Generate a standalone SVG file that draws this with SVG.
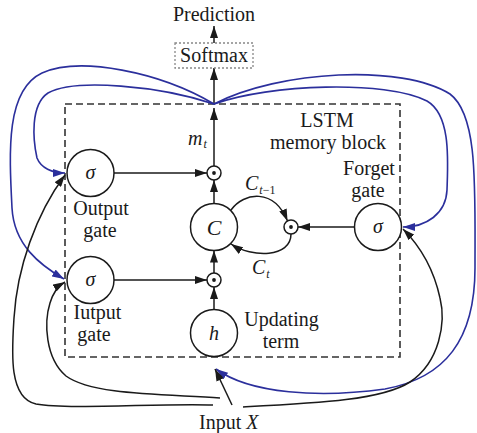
<svg xmlns="http://www.w3.org/2000/svg" width="477" height="433" viewBox="0 0 477 433">
  <style>
    text { font-family: "Liberation Serif", "Times New Roman", serif; font-size: 20px; fill: #1a1a1a; }
    .c { text-anchor: middle; }
    .i { font-style: italic; }
    .sub { font-size: 12px; }
    .node { fill: #fff; stroke: #1a1a1a; stroke-width: 1.5; }
    .blk { fill: none; stroke: #1a1a1a; stroke-width: 1.5; marker-end: url(#ah); }
    .blu { fill: none; stroke: #2b2f9c; stroke-width: 1.6; marker-end: url(#ahb); }
  </style>
  <defs>
    <marker id="ah" viewBox="0 0 12 8" refX="12" refY="4" markerWidth="12" markerHeight="8" markerUnits="userSpaceOnUse" orient="auto">
      <path d="M0,0 L12,4 L0,8 z" fill="#1a1a1a"/>
    </marker>
    <marker id="ahb" viewBox="0 0 12 8" refX="12" refY="4" markerWidth="12" markerHeight="8" markerUnits="userSpaceOnUse" orient="auto">
      <path d="M0,0 L12,4 L0,8 z" fill="#2b2f9c"/>
    </marker>
  </defs>
  <rect width="477" height="433" fill="#fff"/>

  <!-- LSTM memory block frame -->
  <g id="memory-block">
    <rect x="65" y="104" width="335" height="253" fill="none" stroke="#333" stroke-width="1.6" stroke-dasharray="7,4"/>
    <text class="c" x="327" y="127">LSTM</text>
    <text class="c" x="328" y="149">memory block</text>
  </g>

  <!-- connectors -->
  <g id="connectors">
    <!-- output path -->
    <path class="blk" d="M214,43 L214,26"/>
    <path class="blk" d="M214,104 L214,68"/>
    <path class="blk" d="M214,166 L214,108"/>
    <!-- gates into multipliers -->
    <path class="blk" d="M114,173 L207,173"/>
    <path class="blk" d="M114,280 L207,280"/>
    <path class="blk" d="M354.5,227 L298,227"/>
    <!-- cell column -->
    <path class="blk" d="M214,203.5 L214,180"/>
    <path class="blk" d="M214,273 L214,250.5"/>
    <path class="blk" d="M214,309.5 L214,287"/>
    <!-- cell state loop -->
    <path class="blk" d="M231,210 C244,192 274,188 287.5,221"/>
    <path class="blk" d="M291,234 C291,258 252,258 231,244"/>
    <!-- recurrent feedback from output -->
    <path class="blu" d="M214,104 C160,86 75,78 48,93 C30,105 33,140 37,158 C41,168 52,173 65,173"/>
    <path class="blu" d="M214,104 C160,72 80,56 42,73 C6,90 9,150 12,208 C14,245 40,265 64,279"/>
    <path class="blu" d="M214,104 C270,84 385,80 427,101 C451,115 448,160 447,190 C446,214 426,227 403,227"/>
    <path class="blu" d="M214,104 C280,70 402,64 450,94 C478,115 475,185 475,268 C475,340 445,378 385,389 C320,398 250,394 216,369"/>
    <!-- input X feeds -->
    <path class="blk" d="M232,405 L215,369"/>
    <path class="blk" d="M213,405 C160,403 70,410 36,404 C8,398 12,350 14,318 C17,268 36,214 65,175"/>
    <path class="blk" d="M220,398 C160,394 92,395 66,376 C45,358 44,322 50,303 C53,293 58,286 65,282"/>
    <path class="blk" d="M243,407 C320,403 382,400 410,382 C440,362 446,322 440,298 C433,266 419,245 403,229"/>
  </g>

  <!-- softmax and prediction -->
  <g id="softmax">
    <rect x="175" y="43" width="78" height="25" fill="#fff" stroke="#888" stroke-width="1.3" stroke-dasharray="2,2"/>
    <text class="c" x="214" y="62">Softmax</text>
  </g>
  <g id="prediction">
    <text class="c" x="214" y="21">Prediction</text>
  </g>

  <!-- output gate -->
  <g id="output-gate">
    <circle class="node" cx="90.5" cy="173" r="23.5"/>
    <text class="c i" x="90.5" y="179">σ</text>
    <text class="c" x="101" y="215">Output</text>
    <text class="c" x="100" y="237">gate</text>
  </g>

  <!-- input gate -->
  <g id="input-gate">
    <circle class="node" cx="90.5" cy="280" r="23.5"/>
    <text class="c i" x="90.5" y="286">σ</text>
    <text class="c" x="97.5" y="319">Iutput</text>
    <text class="c" x="94" y="341">gate</text>
  </g>

  <!-- forget gate -->
  <g id="forget-gate">
    <circle class="node" cx="378" cy="227" r="23.5"/>
    <text class="c i" x="378" y="233">σ</text>
    <text class="c" x="369" y="175">Forget</text>
    <text class="c" x="368" y="197">gate</text>
  </g>

  <!-- cell -->
  <g id="cell">
    <circle class="node" cx="214" cy="227" r="23.5"/>
    <text class="c i" x="214" y="235" style="font-size:22px">C</text>
  </g>

  <!-- updating term -->
  <g id="updating-term">
    <circle class="node" cx="214" cy="333" r="23.5"/>
    <text class="c i" x="214" y="340">h</text>
    <text class="c" x="281.5" y="326">Updating</text>
    <text class="c" x="281" y="348">term</text>
  </g>

  <!-- multipliers -->
  <g id="mult-output">
    <circle class="node" cx="214" cy="173" r="7"/>
    <circle cx="214" cy="173" r="1.9" fill="#1a1a1a"/>
  </g>
  <g id="mult-forget">
    <circle class="node" cx="291" cy="227" r="7"/>
    <circle cx="291" cy="227" r="1.9" fill="#1a1a1a"/>
  </g>
  <g id="mult-input">
    <circle class="node" cx="214" cy="280" r="7"/>
    <circle cx="214" cy="280" r="1.9" fill="#1a1a1a"/>
  </g>

  <!-- signal labels -->
  <g id="labels">
    <text class="i" x="188" y="145">m<tspan class="sub" dx="1" dy="3">t</tspan></text>
    <text x="245" y="190"><tspan class="i">C</tspan><tspan class="sub" dx="1" dy="4"><tspan class="i">t</tspan>−1</tspan></text>
    <text x="252" y="274"><tspan class="i">C</tspan><tspan class="sub i" dx="1" dy="4">t</tspan></text>
  </g>

  <!-- input -->
  <g id="input-x">
    <text x="199" y="429">Input <tspan class="i">X</tspan></text>
  </g>
</svg>
